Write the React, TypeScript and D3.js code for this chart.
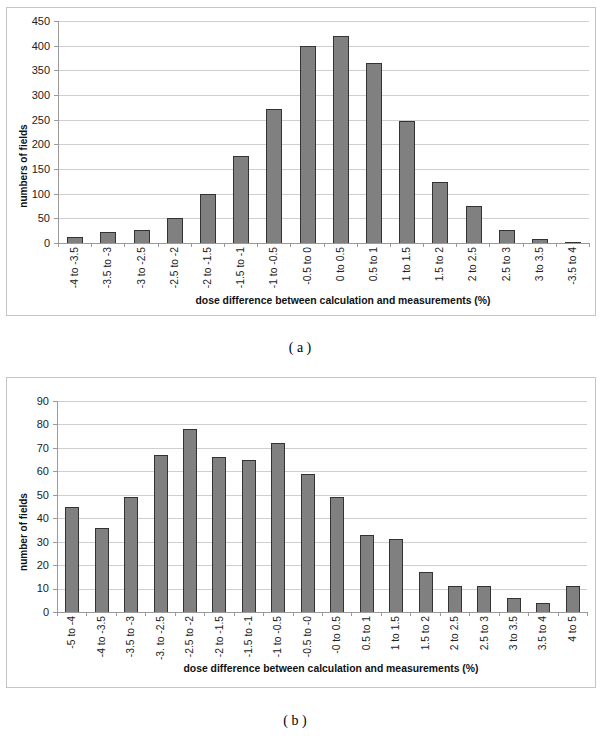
import { useEffect, useRef } from "react"
import * as d3 from "d3"

// panel (a)
const catsA = [
  "-4 to -3.5", "-3.5 to -3", "-3 to -2.5", "-2.5 to -2", "-2 to -1.5", "-1.5 to -1",
  "-1 to -0.5", "-0.5 to 0", "0 to 0.5", "0.5 to 1", "1 to 1.5", "1.5 to 2",
  "2 to 2.5", "2.5 to 3", "3 to 3.5", "-3.5 to 4",
]
const valsA = [13, 23, 27, 50, 100, 177, 271, 400, 420, 365, 247, 123, 75, 27, 9, 3]
const ticksA = [0, 50, 100, 150, 200, 250, 300, 350, 400, 450]

// panel (b)
const catsB = [
  "-5 to -4", "-4 to -3.5", "-3.5 to -3", "-3. to -2.5", "-2.5 to -2", "-2 to -1.5",
  "-1.5 to -1", "-1 to -0.5", "-0.5 to -0", "-0 to 0.5", "0.5 to 1", "1 to 1.5",
  "1.5 to 2", "2 to 2.5", "2.5 to 3", "3 to 3.5", "3.5 to 4", "4 to 5",
]
const valsB = [45, 36, 49, 67, 78, 66, 65, 72, 59, 49, 33, 31, 17, 11, 11, 6, 4, 11]
const ticksB = [0, 10, 20, 30, 40, 50, 60, 70, 80, 90]

const FONT = "Liberation Sans, Arial, sans-serif"

function drawPanel(
  root: d3.Selection<SVGGElement, unknown, null, undefined>,
  opts: {
    frame: [number, number, number, number]
    plot: { left: number; right: number; top: number; bottom: number }
    cats: string[]
    vals: number[]
    ticks: number[]
    yTitle: string
    yTitleY: number
    xTitleX: number
    xTitleY: number
    caption: string
    captionX: number
    captionY: number
  },
) {
  const { frame, plot, cats, vals, ticks } = opts
  const g = root.append("g")

  g.append("rect")
    .attr("x", frame[0] + 0.5)
    .attr("y", frame[1] + 0.5)
    .attr("width", frame[2])
    .attr("height", frame[3])
    .attr("fill", "none")
    .attr("stroke", "#c4c4c4")

  const x = d3.scaleBand().domain(cats).range([plot.left, plot.right]).paddingInner(0.56).paddingOuter(0.28)
  const y = d3.scaleLinear().domain([0, ticks[ticks.length - 1]]).range([plot.bottom, plot.top])

  // gridlines
  g.selectAll(".grid")
    .data(ticks.slice(1))
    .enter()
    .append("line")
    .attr("x1", plot.left)
    .attr("x2", plot.right)
    .attr("y1", (d) => Math.round(y(d)) + 0.5)
    .attr("y2", (d) => Math.round(y(d)) + 0.5)
    .attr("stroke", "#cfcfcf")

  // y axis
  g.append("line")
    .attr("x1", plot.left + 0.5)
    .attr("x2", plot.left + 0.5)
    .attr("y1", plot.top)
    .attr("y2", plot.bottom)
    .attr("stroke", "#9a9a9a")

  g.selectAll(".ytick")
    .data(ticks)
    .enter()
    .append("line")
    .attr("x1", plot.left - 4)
    .attr("x2", plot.left)
    .attr("y1", (d) => Math.round(y(d)) + 0.5)
    .attr("y2", (d) => Math.round(y(d)) + 0.5)
    .attr("stroke", "#9a9a9a")

  g.selectAll(".ylab")
    .data(ticks)
    .enter()
    .append("text")
    .attr("x", plot.left - 8)
    .attr("y", (d) => y(d))
    .attr("dy", "0.35em")
    .attr("text-anchor", "end")
    .attr("font-family", FONT)
    .attr("font-size", "11px")
    .attr("fill", "#222")
    .text((d) => d)

  // bars
  g.selectAll(".bar")
    .data(vals)
    .enter()
    .append("rect")
    .attr("x", (_d, i) => Math.round(x(cats[i])!) + 0.5)
    .attr("y", (d) => Math.round(y(d)) + 0.5)
    .attr("width", Math.round(x.bandwidth()))
    .attr("height", (d) => Math.max(0, Math.round(y(0)) - Math.round(y(d))))
    .attr("fill", "#808080")
    .attr("stroke", "#333")
    .attr("stroke-width", 1)

  // x axis
  g.append("line")
    .attr("x1", plot.left)
    .attr("x2", plot.right)
    .attr("y1", Math.round(y(0)) + 0.5)
    .attr("y2", Math.round(y(0)) + 0.5)
    .attr("stroke", "#9a9a9a")

  const step = (plot.right - plot.left) / cats.length
  g.selectAll(".xtick")
    .data(d3.range(cats.length + 1))
    .enter()
    .append("line")
    .attr("x1", (i) => Math.round(plot.left + i * step) + 0.5)
    .attr("x2", (i) => Math.round(plot.left + i * step) + 0.5)
    .attr("y1", y(0))
    .attr("y2", y(0) + 4)
    .attr("stroke", "#9a9a9a")

  g.selectAll(".xlab")
    .data(cats)
    .enter()
    .append("text")
    .attr("transform", (d) => `translate(${x(d)! + x.bandwidth() / 2},${y(0) + 4}) rotate(-90)`)
    .attr("dy", "0.35em")
    .attr("text-anchor", "end")
    .attr("font-family", FONT)
    .attr("font-size", "10.3px")
    .attr("fill", "#222")
    .text((d) => d)

  // axis titles
  g.append("text")
    .attr("x", opts.xTitleX)
    .attr("y", opts.xTitleY)
    .attr("text-anchor", "middle")
    .attr("font-family", FONT)
    .attr("font-size", "10.4px")
    .attr("font-weight", "bold")
    .attr("fill", "#111")
    .text("dose difference between calculation and measurements (%)")

  g.append("text")
    .attr("transform", `translate(${frame[0] + 21},${opts.yTitleY}) rotate(-90)`)
    .attr("text-anchor", "middle")
    .attr("font-family", FONT)
    .attr("font-size", "10px")
    .attr("font-weight", "bold")
    .attr("fill", "#111")
    .text(opts.yTitle)

  g.append("text")
    .attr("x", opts.captionX)
    .attr("y", opts.captionY)
    .attr("text-anchor", "middle")
    .attr("font-family", "Liberation Serif, Times New Roman, serif")
    .attr("font-size", "14px")
    .attr("fill", "#000")
    .text(opts.caption)
}

export default function App() {
  const svgRef = useRef<SVGSVGElement>(null)

  useEffect(() => {
    if (!svgRef.current) return
    const svg = d3.select(svgRef.current)
    svg.selectAll("*").remove()
    svg.append("rect").attr("width", 600).attr("height", 736).attr("fill", "#fff")
    const root = svg.append("g")

    drawPanel(root, {
      frame: [6, 7, 589, 308],
      plot: { left: 58, right: 589, top: 21, bottom: 243 },
      cats: catsA,
      vals: valsA,
      ticks: ticksA,
      yTitle: "numbers of fields",
      yTitleY: 166,
      xTitleX: 343,
      xTitleY: 304,
      caption: "( a )",
      captionX: 300,
      captionY: 352,
    })

    drawPanel(root, {
      frame: [6, 377, 589, 310],
      plot: { left: 57, right: 587, top: 401, bottom: 612 },
      cats: catsB,
      vals: valsB,
      ticks: ticksB,
      yTitle: "number of fields",
      yTitleY: 532,
      xTitleX: 331,
      xTitleY: 672,
      caption: "( b )",
      captionX: 295,
      captionY: 725,
    })
  }, [])

  return (
    <div>
      <svg ref={svgRef} width={600} height={736} style={{ position: "absolute", left: 0, top: 0 }} />
    </div>
  )
}
